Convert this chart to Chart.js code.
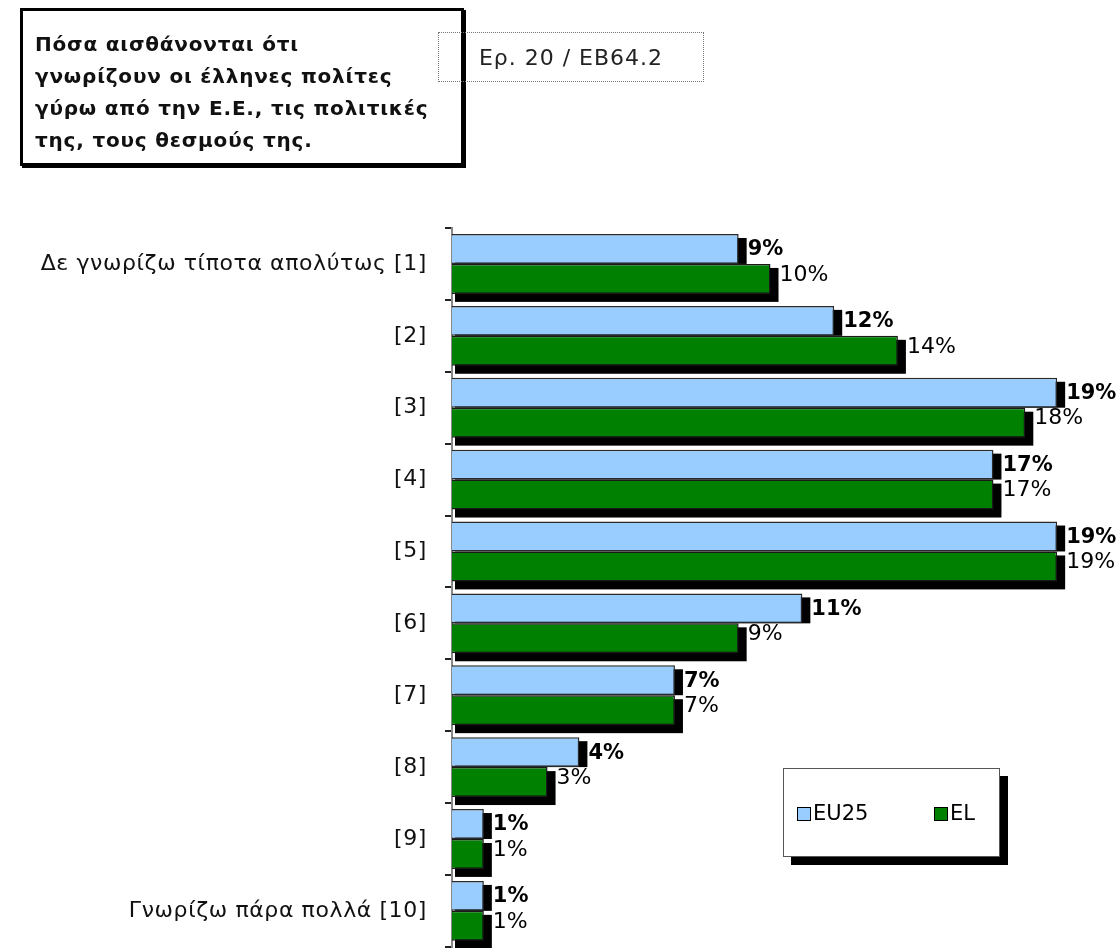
<!DOCTYPE html>
<html>
<head>
<meta charset="utf-8">
<script src="https://cdn.jsdelivr.net/npm/chart.js@4/dist/chart.umd.min.js"></script>
<style>
  body { margin: 0; background: #fff; font-family: "DejaVu Sans", sans-serif; }
  #wrap { position: relative; width: 1117px; height: 948px; overflow: hidden; }
  #chart { position: absolute; left: 0; top: 0; }
  .titleBox {
    position: absolute; left: 20px; top: 8px; width: 412px; height: 125px;
    border: 3px solid #000; box-shadow: 2px 2px 0 #000;
    padding: 17px 14px 10px 12px;
    font-weight: bold; font-size: 20px; letter-spacing: 0.8px; line-height: 32px; color: #111;
  }
  .noteBox {
    position: absolute; left: 438px; top: 32px; width: 264px; height: 48px;
    border: 1px dotted #777; font-size: 22px; letter-spacing: 1px; line-height: 50px; text-align: center; color: #222;
  }
  .legendBox {
    position: absolute; left: 783px; top: 768px; width: 215px; height: 87px;
    border: 1px solid #555; background: #fff; box-shadow: 8px 8px 0 #000;
    font-size: 21px;
  }
  .legendItem { position: absolute; top: 32px; line-height: 24px; }
  .legendItem span.sw {
    display: inline-block; width: 12px; height: 12px; border: 1px solid #000;
    margin-right: 2px; vertical-align: -1px;
  }
</style>
</head>
<body>
<div id="wrap">
  <canvas id="chart" width="1117" height="978"></canvas>
  <div class="titleBox">Πόσα αισθάνονται ότι<br>γνωρίζουν οι έλληνες πολίτες<br>γύρω από την Ε.Ε., τις πολιτικές<br>της, τους θεσμούς της.</div>
  <div class="noteBox">Ερ. 20 / EB64.2</div>
  <div class="legendBox" id="legend"></div>
</div>
<script>
// ==========================================
// DATA
// ==========================================
const categories = [
    'Δε γνωρίζω τίποτα απολύτως [1]', '[2]', '[3]', '[4]', '[5]',
    '[6]', '[7]', '[8]', '[9]', 'Γνωρίζω πάρα πολλά [10]'
];
const seriesNames = ['EU25', 'EL'];
const eu25Values = [9, 12, 19, 17, 19, 11, 7, 4, 1, 1];
const elValues = [10, 14, 18, 17, 19, 9, 7, 3, 1, 1];
const seriesColors = ['#99CCFF', '#008000'];

const FONT = '"DejaVu Sans", sans-serif';

// ==========================================
// PLUGINS
// ==========================================

// slightly wider lettering for the category labels (drawn before the bars)
const tickSpacing = {
    id: 'tickSpacing',
    beforeDraw(chart) { chart.ctx.letterSpacing = '0.6px'; },
    beforeDatasetsDraw(chart) { chart.ctx.letterSpacing = '0px'; }
};

// black drop shadow behind the bars (top series shadow stays inside its own row)
const barShadow = {
    id: 'barShadow',
    beforeDatasetsDraw(chart) {
        const ctx = chart.ctx;
        ctx.save();
        ctx.fillStyle = '#000';
        chart.data.datasets.forEach((ds, i) => {
            const extra = i === 0 ? 0 : 8;
            chart.getDatasetMeta(i).data.forEach(bar => {
                const top = bar.y - bar.height / 2;
                ctx.fillRect(bar.base + 3, top + 4, bar.x - bar.base + 5, bar.height - 4 + extra);
            });
        });
        ctx.restore();
    }
};

// value labels after each bar
const valueLabels = {
    id: 'valueLabels',
    afterDatasetsDraw(chart) {
        const ctx = chart.ctx;
        ctx.save();
        ctx.fillStyle = '#000';
        ctx.textBaseline = 'middle';
        ctx.textAlign = 'left';
        chart.data.datasets.forEach((ds, i) => {
            ctx.font = (i === 0 ? 'bold 21px ' : '22px ') + FONT;
            chart.getDatasetMeta(i).data.forEach((bar, j) => {
                const dy = i === 0 ? 1 : -4;
                ctx.fillText(ds.data[j] + '%', bar.x + 9, bar.y + dy);
            });
        });
        ctx.restore();
    }
};

// ==========================================
// CHART
// ==========================================
new Chart(document.getElementById('chart'), {
    type: 'bar',
    data: {
        labels: categories,
        datasets: [
            {
                label: seriesNames[0], data: eu25Values,
                backgroundColor: seriesColors[0], borderColor: '#2a2a2a', borderWidth: 1.5,
                categoryPercentage: 0.833, barPercentage: 1
            },
            {
                label: seriesNames[1], data: elValues,
                backgroundColor: seriesColors[1], borderColor: '#1a1a1a', borderWidth: 1.5,
                categoryPercentage: 0.833, barPercentage: 1
            }
        ]
    },
    options: {
        indexAxis: 'y',
        responsive: false,
        animation: false,
        layout: { padding: { top: 228, right: 28, bottom: 0, left: 0 } },
        plugins: {
            legend: { display: false },
            tooltip: { enabled: false }
        },
        scales: {
            x: { display: false, min: 0, max: 20 },
            y: {
                afterFit(scale) { scale.width = 452; },
                grid: { drawOnChartArea: false, drawTicks: true, tickLength: 7, color: '#222', lineWidth: 2 },
                border: { display: true, color: '#888', width: 2 },
                ticks: { color: '#111', padding: 18, font: { family: FONT, size: 22 } }
            }
        }
    },
    plugins: [tickSpacing, barShadow, valueLabels]
});

// ==========================================
// LEGEND
// ==========================================
const legend = document.getElementById('legend');
const legendX = [13, 150];
seriesNames.forEach((name, i) => {
    const item = document.createElement('div');
    item.className = 'legendItem';
    item.style.left = legendX[i] + 'px';
    item.innerHTML = '<span class="sw" style="background:' + seriesColors[i] + '"></span>' + name;
    legend.appendChild(item);
});
</script>
</body>
</html>
